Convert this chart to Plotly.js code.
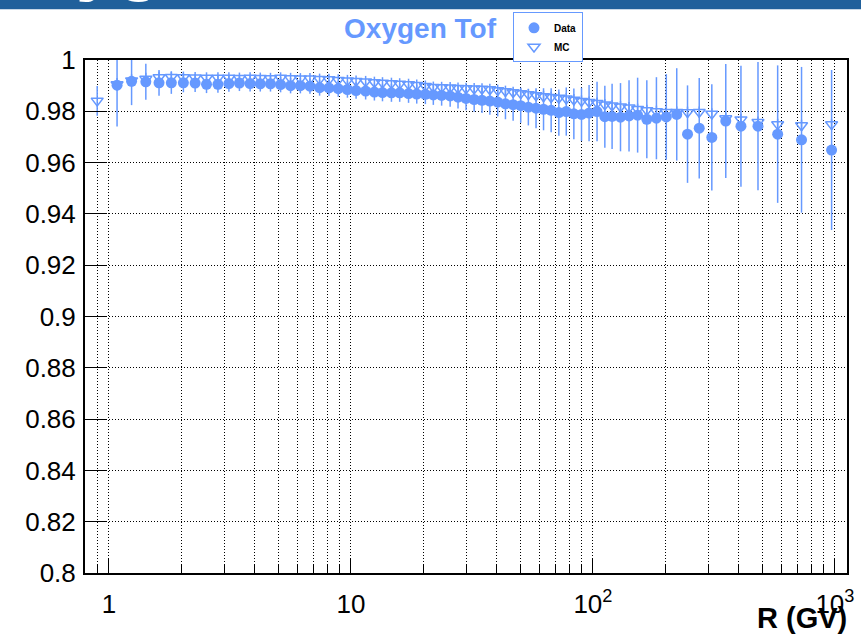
<!DOCTYPE html>
<html>
<head>
<meta charset="utf-8">
<script src="https://cdn.plot.ly/plotly-3.0.1.min.js"></script>
<style>html,body{margin:0;padding:0;background:#fff;}#chart{width:861px;height:641px;}</style>
</head>
<body>
<div id="chart"></div>
<script>
// Rigidity bin centres (GV)
var rigidityData = [1.08, 1.24, 1.42, 1.61, 1.81, 2.03, 2.27, 2.53, 2.82, 3.13, 3.46, 3.83, 4.22, 4.65, 5.12, 5.63, 6.18, 6.77, 7.42, 8.11, 8.86, 9.67, 10.5, 11.5, 12.5, 13.5, 14.7, 15.9, 17.3, 18.7, 20.3, 21.9, 23.7, 25.7, 27.7, 29.9, 32.3, 34.8, 37.5, 40.4, 43.5, 46.8, 50.3, 54.1, 58.2, 62.5, 67.2, 72.3, 77.6, 83.4, 89.7, 96.4, 104, 112, 120, 130, 141, 153, 167, 183, 201, 222, 246, 275, 310, 354, 409, 481, 580, 728, 969];
var effData = [0.9902, 0.9917, 0.9915, 0.9911, 0.9911, 0.9911, 0.9910, 0.9905, 0.9905, 0.9908, 0.9910, 0.9908, 0.9907, 0.9907, 0.9904, 0.9900, 0.9900, 0.9898, 0.9892, 0.9891, 0.9888, 0.9885, 0.9881, 0.9879, 0.9875, 0.9873, 0.9872, 0.9872, 0.9869, 0.9867, 0.9866, 0.9864, 0.9862, 0.9860, 0.9855, 0.9850, 0.9846, 0.9843, 0.9840, 0.9836, 0.9829, 0.9826, 0.9822, 0.9816, 0.9812, 0.9808, 0.9804, 0.9795, 0.9799, 0.9790, 0.9788, 0.9793, 0.9799, 0.9779, 0.9780, 0.9777, 0.9782, 0.9785, 0.9769, 0.9773, 0.9778, 0.9788, 0.9711, 0.9734, 0.9698, 0.9762, 0.9742, 0.9742, 0.9711, 0.9689, 0.9649];
var errData = [0.0161, 0.0093, 0.0070, 0.0050, 0.0043, 0.0037, 0.0035, 0.0034, 0.0033, 0.0032, 0.0031, 0.0031, 0.0030, 0.0030, 0.0030, 0.0030, 0.0030, 0.0030, 0.0031, 0.0031, 0.0031, 0.0032, 0.0032, 0.0033, 0.0033, 0.0034, 0.0035, 0.0035, 0.0036, 0.0037, 0.0038, 0.0039, 0.0040, 0.0042, 0.0044, 0.0046, 0.0048, 0.0050, 0.0053, 0.0056, 0.0060, 0.0063, 0.0067, 0.0071, 0.0078, 0.0082, 0.0086, 0.0090, 0.0094, 0.0099, 0.0104, 0.0110, 0.0116, 0.0121, 0.0127, 0.0133, 0.0139, 0.0146, 0.0152, 0.0160, 0.0167, 0.0180, 0.0190, 0.0196, 0.0207, 0.0222, 0.0236, 0.0250, 0.0268, 0.0284, 0.0312];

var rigidityMC = [0.894, 1.08, 1.24, 1.42, 1.61, 1.81, 2.03, 2.27, 2.53, 2.82, 3.13, 3.46, 3.83, 4.22, 4.65, 5.12, 5.63, 6.18, 6.77, 7.42, 8.11, 8.86, 9.67, 10.5, 11.5, 12.5, 13.5, 14.7, 15.9, 17.3, 18.7, 20.3, 21.9, 23.7, 25.7, 27.7, 29.9, 32.3, 34.8, 37.5, 40.4, 43.5, 46.8, 50.3, 54.1, 58.2, 62.5, 67.2, 72.3, 77.6, 83.4, 89.7, 96.4, 104, 112, 120, 130, 141, 153, 167, 183, 201, 222, 246, 275, 310, 354, 409, 481, 580, 728, 969];
var effMC = [0.9841, 0.9905, 0.9920, 0.9926, 0.9932, 0.9933, 0.9932, 0.9931, 0.9930, 0.9930, 0.9930, 0.9929, 0.9930, 0.9929, 0.9928, 0.9930, 0.9928, 0.9927, 0.9927, 0.9925, 0.9924, 0.9922, 0.9920, 0.9918, 0.9916, 0.9913, 0.9911, 0.9909, 0.9907, 0.9905, 0.9902, 0.9898, 0.9894, 0.9893, 0.9892, 0.9890, 0.9889, 0.9888, 0.9887, 0.9885, 0.9882, 0.9878, 0.9874, 0.9870, 0.9866, 0.9862, 0.9858, 0.9855, 0.9852, 0.9849, 0.9845, 0.9840, 0.9836, 0.9832, 0.9826, 0.9822, 0.9818, 0.9814, 0.9808, 0.9804, 0.9800, 0.9797, 0.9797, 0.9796, 0.9797, 0.9790, 0.9772, 0.9768, 0.9758, 0.9749, 0.9745, 0.9749];
var errMC = [0.0058, 0.0025, 0.0024, 0.0024, 0.0023, 0.0023, 0.0023, 0.0022, 0.0022, 0.0022, 0.0022, 0.0022, 0.0022, 0.0022, 0.0022, 0.0022, 0.0022, 0.0022, 0.0022, 0.0022, 0.0022, 0.0022, 0.0022, 0.0022, 0.0022, 0.0022, 0.0022, 0.0022, 0.0022, 0.0022, 0.0022, 0.0022, 0.0022, 0.0022, 0.0022, 0.0022, 0.0022, 0.0022, 0.0022, 0.0022, 0.0022, 0.0022, 0.0022, 0.0022, 0.0022, 0.0022, 0.0022, 0.0022, 0.0022, 0.0022, 0.0022, 0.0022, 0.0022, 0.0022, 0.0022, 0.0022, 0.0022, 0.0022, 0.0022, 0.0022, 0.0022, 0.0022, 0.0022, 0.0022, 0.0022, 0.0022, 0.0022, 0.0022, 0.0022, 0.0022, 0.0022, 0.0022];

var majorTicks = [1, 10, 100, 1000];
var majorTickText = ['1', '10', '10<sup>2</sup>', '10<sup>3</sup>'];
var minorTicks = [0.9, 2, 3, 4, 5, 6, 7, 8, 9, 20, 30, 40, 50, 60, 70, 80, 90, 200, 300, 400, 500, 600, 700, 800, 900];
var yTicks = [0.8, 0.82, 0.84, 0.86, 0.88, 0.9, 0.92, 0.94, 0.96, 0.98, 1];
var yTickText = ['0.8', '0.82', '0.84', '0.86', '0.88', '0.9', '0.92', '0.94', '0.96', '0.98', '1'];

var blue = '#6699ff';
var font = 'Liberation Sans, Arial, Helvetica, sans-serif';

var traces = [
  {
    x: rigidityMC, y: effMC, type: 'scatter', mode: 'markers', name: 'MC',
    marker: {symbol: 'triangle-down-open', size: 10.5, color: blue, line: {width: 1.5, color: blue}},
    error_y: {type: 'data', array: errMC, visible: true, color: blue, thickness: 1.5, width: 0},
    cliponaxis: true
  },
  {
    x: rigidityData, y: effData, type: 'scatter', mode: 'markers', name: 'Data',
    marker: {symbol: 'circle', size: 11, color: blue},
    error_y: {type: 'data', array: errData, visible: true, color: blue, thickness: 1.5, width: 0},
    cliponaxis: true
  }
];

var L = 85, R = 847, T = 57, B = 573;
function px2x(p) { return (p - L) / (R - L); }
function px2y(p) { return (B - p) / (B - T); }
var dotted = '1px,2px';

var layout = {
  width: 861, height: 641,
  margin: {l: L, r: 861 - R, t: T, b: 641 - B, pad: 0},
  paper_bgcolor: '#ffffff', plot_bgcolor: '#ffffff',
  font: {family: font, color: '#000'},
  showlegend: true,
  legend: {
    x: px2x(513), y: px2y(9), xanchor: 'left', yanchor: 'top',
    bgcolor: '#ffffff', bordercolor: blue, borderwidth: 1,
    font: {family: font, size: 10, color: '#000', weight: 'bold'},
    traceorder: 'reversed', tracegroupgap: 0, itemwidth: 30
  },
  title: {
    text: '<b>Oxygen Tof</b>', x: 420 / 861, xanchor: 'center', xref: 'container',
    y: 1 - 28 / 641, yanchor: 'middle', yref: 'container',
    font: {family: font, size: 28, color: blue}
  },
  xaxis: {
    type: 'log', range: [Math.log10(0.796), Math.log10(1122)],
    tickmode: 'array', tickvals: majorTicks, ticktext: majorTickText,
    ticks: 'inside', ticklen: 14, tickwidth: 1, tickcolor: '#000',
    showgrid: true, gridcolor: '#000', gridwidth: 1, griddash: dotted,
    minor: {tickmode: 'array', tickvals: minorTicks, ticks: 'inside', ticklen: 8, tickcolor: '#000', showgrid: true, gridcolor: '#000', gridwidth: 1, griddash: dotted},
    showline: true, linecolor: '#000', linewidth: 2, mirror: true,
    zeroline: false, tickfont: {family: font, size: 26, color: '#000'},
    ticklabelstandoff: 7
  },
  yaxis: {
    range: [0.8, 1],
    tickmode: 'array', tickvals: yTicks, ticktext: yTickText,
    ticks: 'inside', ticklen: 22, tickwidth: 1, tickcolor: '#000',
    showgrid: true, gridcolor: '#000', gridwidth: 1, griddash: dotted,
    showline: true, linecolor: '#000', linewidth: 2, mirror: true,
    zeroline: false, tickfont: {family: font, size: 26, color: '#000'},
    ticklabelstandoff: 2
  },
  shapes: [
    {type: 'rect', xref: 'paper', yref: 'paper', x0: px2x(-5), x1: px2x(870), y0: px2y(6), y1: px2y(-10), fillcolor: '#20609b', line: {width: 0}, layer: 'above'}
  ],
  annotations: [
    {text: '<b>Oxygen</b>', xref: 'paper', yref: 'paper', x: px2x(-25), y: px2y(2), xanchor: 'left', yanchor: 'bottom', showarrow: false, font: {family: font, size: 74, color: '#ffffff'}},
    {text: '<b>R (GV)</b>', xref: 'paper', yref: 'paper', x: px2x(849), y: px2y(636), xanchor: 'right', yanchor: 'bottom', showarrow: false, font: {family: font, size: 29, color: '#000'}}
  ]
};

Plotly.newPlot('chart', traces, layout, {displayModeBar: false, staticPlot: true});
</script>
</body>
</html>
